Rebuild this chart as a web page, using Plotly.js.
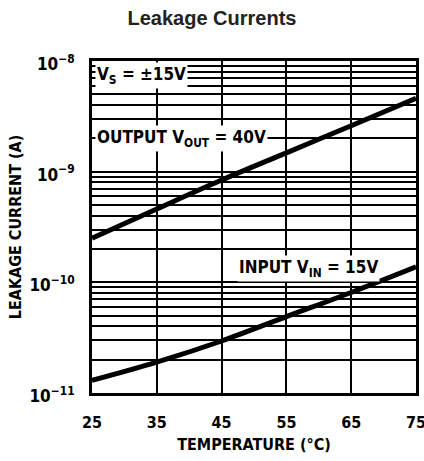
<!DOCTYPE html>
<html><head><meta charset="utf-8">
<script src="https://cdn.plot.ly/plotly-3.0.1.min.js"></script>
<style>body{margin:0;background:#fff}#chart{width:424px;height:461px}</style>
</head><body><div id="chart"></div>
<script>
const temperature = [25, 35, 45, 55, 65, 75];
const outputLeakage = [2.5e-10, 4.6e-10, 8.4e-10, 1.48e-9, 2.6e-9, 4.6e-9];
const inputLeakage = [1.3e-11, 1.9e-11, 2.95e-11, 4.9e-11, 8.1e-11, 1.38e-10];
const decades = [-11, -10, -9, -8];
const xTicks = [25, 35, 45, 55, 65, 75];

const FONT = '"DejaVu Sans Condensed", "DejaVu Sans", sans-serif';

const yTickVals = decades.map(d => Math.pow(10, d));
const yTickText = decades.map(d => '10<sup>\u2212' + Math.abs(d) + '</sup>');
const yMinorVals = [];
for (let i = 0; i < decades.length - 1; i++) {
  for (let m = 2; m <= 9; m++) yMinorVals.push(m * Math.pow(10, decades[i]));
}

const traces = [
  {x: temperature, y: outputLeakage, mode: 'lines', line: {color: '#000', width: 5, shape: 'spline'}, hoverinfo: 'skip'},
  {x: temperature, y: inputLeakage, mode: 'lines', line: {color: '#000', width: 5, shape: 'spline'}, hoverinfo: 'skip'}
];

const layout = {
  width: 424, height: 461,
  margin: {l: 92, r: 8, t: 61, b: 68},
  paper_bgcolor: '#fff', plot_bgcolor: '#fff',
  showlegend: false,
  title: {text: '<b>Leakage Currents</b>', x: 0.5, xref: 'container', xanchor: 'center', y: 0.96, yanchor: 'middle',
          font: {family: 'Liberation Sans, Arial, sans-serif', size: 20, color: '#222'}},
  xaxis: {
    range: [25, 75], tickvals: xTicks, ticktext: xTicks.map(String),
    showgrid: true, gridcolor: '#000', gridwidth: 2,
    showline: true, linecolor: '#000', linewidth: 3, mirror: true,
    ticks: '', zeroline: false, ticklabeloverflow: 'allow', ticklabelstandoff: 13,
    tickfont: {family: FONT, size: 16, color: '#000', weight: 'bold', stretch: 'condensed'},
    title: {text: '<b>TEMPERATURE (°C)</b>', standoff: 8, font: {family: FONT, size: 16, color: '#000', stretch: 'condensed'}}
  },
  yaxis: {
    type: 'log', range: [-11, -8],
    tickvals: yTickVals, ticktext: yTickText,
    minor: {tickvals: yMinorVals, showgrid: true, gridcolor: '#000', gridwidth: 2, ticks: ''},
    showgrid: true, gridcolor: '#000', gridwidth: 2,
    showline: true, linecolor: '#000', linewidth: 3, mirror: true,
    ticks: '', zeroline: false, ticklabeloverflow: 'allow', ticklabelstandoff: 11, ticklabelshift: 3,
    tickfont: {family: FONT, size: 17, color: '#000', weight: 'bold', stretch: 'condensed'},
    title: {text: '<b>LEAKAGE CURRENT (A)</b>', standoff: 4, font: {family: FONT, size: 16, color: '#000', stretch: 'condensed'}}
  },
  annotations: [
    {text: '<b>V<sub>S</sub> = ±15V</b>', xref: 'x', yref: 'y', x: 25.5, y: Math.log10(7.4e-9),
     xanchor: 'left', yanchor: 'middle', showarrow: false, bgcolor: '#fff', borderpad: 1,
     font: {family: FONT, size: 17, color: '#000', stretch: 'condensed'}},
    {text: '<b>OUTPUT V<sub>OUT</sub> = 40V</b>', xref: 'x', yref: 'y', x: 25.5, y: Math.log10(2.0e-9),
     xanchor: 'left', yanchor: 'middle', showarrow: false, bgcolor: '#fff', borderpad: 1,
     font: {family: FONT, size: 17, color: '#000', stretch: 'condensed'}},
    {text: '<b>INPUT V<sub>IN</sub> = 15V</b>', xref: 'x', yref: 'y', x: 47.4, y: Math.log10(1.32e-10),
     xanchor: 'left', yanchor: 'middle', showarrow: false, bgcolor: '#fff', borderpad: 1,
     font: {family: FONT, size: 17, color: '#000', stretch: 'condensed'}}
  ]
};

Plotly.newPlot('chart', traces, layout, {displayModeBar: false, staticPlot: true});
</script>
</body></html>
